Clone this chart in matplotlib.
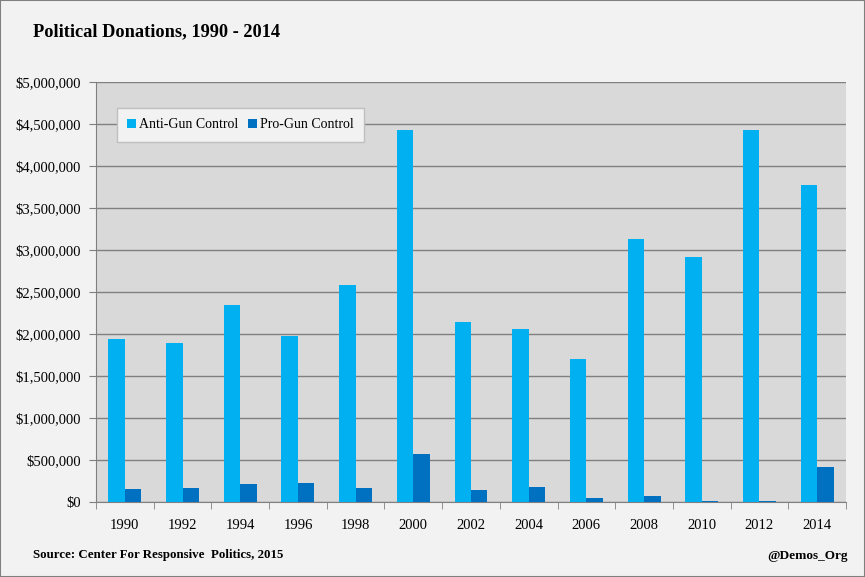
import numpy as np
import matplotlib.pyplot as plt
from matplotlib.patches import Rectangle
from matplotlib.ticker import FuncFormatter, MultipleLocator

anos = ["1990", "1992", "1994", "1996", "1998", "2000", "2002",
        "2004", "2006", "2008", "2010", "2012", "2014"]
anti_gun = [1940000, 1890000, 2350000, 1980000, 2580000, 4430000, 2140000,
            2060000, 1700000, 3130000, 2920000, 4430000, 3770000]
pro_gun = [155000, 167000, 214000, 226000, 167000, 571000, 143000,
           179000, 48000, 71000, 12000, 12000, 417000]

plt.rcParams["font.family"] = ["Liberation Serif", "DejaVu Serif"]

fig = plt.figure(figsize=(8.65, 5.77), dpi=100, facecolor="#F2F2F2")
fig.patches.append(Rectangle((0, 0), 1, 1, transform=fig.transFigure,
                             fill=False, edgecolor="#808080", linewidth=1.5))
ax = fig.add_axes([0.111, 0.130, 0.867, 0.728])
ax.set_facecolor("#D9D9D9")

x = np.arange(len(anos))
w = 0.285
ax.bar(x - w / 2, anti_gun, w, color="#00B0F0", label="Anti-Gun Control", zorder=3)
ax.bar(x + w / 2, pro_gun, w, color="#0070C0", label="Pro-Gun Control", zorder=3)

ax.set_xlim(-0.5, len(anos) - 0.5)
ax.set_ylim(0, 5000000)
ax.yaxis.set_major_locator(MultipleLocator(500000))
ax.yaxis.set_major_formatter(FuncFormatter(lambda v, p: f"${v:,.0f}"))
ax.grid(axis="y", color="#808080", linewidth=1, zorder=0)

ax.set_xticks(x)
ax.set_xticklabels(anos)
ax.set_xticks(np.arange(-0.5, len(anos)), minor=True)
ax.tick_params(axis="x", which="major", length=0, pad=12, labelsize=10.5)
ax.tick_params(axis="x", which="minor", length=5, color="#808080")
ax.tick_params(axis="y", length=5, color="#808080", labelsize=10.5, pad=6)

for s in ["top", "right"]:
    ax.spines[s].set_visible(False)
for s in ["left", "bottom"]:
    ax.spines[s].set_color("#808080")

leg = ax.legend(loc="upper left", bbox_to_anchor=(0.028, 0.938), ncol=2,
                frameon=True, fancybox=False, fontsize=10, borderaxespad=0,
                handlelength=0.6, handleheight=0.6, handletextpad=0.25,
                columnspacing=0.7, borderpad=0.75)
leg.get_frame().set_facecolor("#F2F2F2")
leg.get_frame().set_edgecolor("#BFBFBF")
leg.get_frame().set_alpha(1)

fig.text(0.038, 0.945, "Political Donations, 1990 - 2014", fontsize=13.2,
         fontweight="bold", va="center")
fig.text(0.038, 0.038, "Source: Center For Responsive  Politics, 2015",
         fontsize=9.3, fontweight="bold", va="center")
fig.text(0.980, 0.036, "@Demos_Org", fontsize=9.5, fontweight="bold",
         va="center", ha="right")

fig.savefig("out.png", dpi=100, facecolor=fig.get_facecolor())
